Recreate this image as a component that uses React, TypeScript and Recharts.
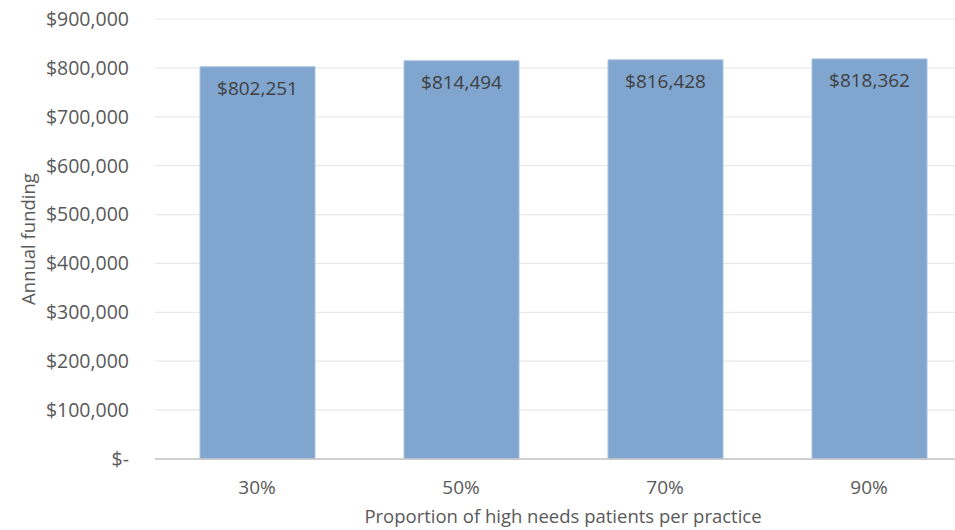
import { Bar, BarChart, CartesianGrid, LabelList, XAxis, YAxis } from "recharts";

const categories = ["30%", "50%", "70%", "90%"];
const funding = [802251, 814494, 816428, 818362];
const yTicks = [0, 100000, 200000, 300000, 400000, 500000, 600000, 700000, 800000, 900000];

const data = categories.map((label, i) => ({ label, funding: funding[i] }));

const FONT = "'Open Sans', 'Noto Sans', sans-serif";

const money = (v: number) => (v === 0 ? "$-" : "$" + v.toLocaleString("en-US"));

const YTitle = (props: any) => {
  const vb = props.viewBox || {};
  const cy = (vb.y ?? 0) + (vb.height ?? 0) / 2;
  return (
    <text
      x={27}
      y={cy}
      transform={`rotate(-90, 27, ${cy})`}
      textAnchor="middle"
      dominantBaseline="central"
      fill="#595959"
      fontSize={18.5}
      fontFamily={FONT}
    >
      Annual funding
    </text>
  );
};

export default function App() {
  return (
    <div
      style={{
        position: "absolute",
        left: 0,
        top: 0,
        width: 955,
        height: 530,
        overflow: "hidden",
        background: "#ffffff",
      }}
    >
      <BarChart
        width={971}
        height={530}
        data={data}
        margin={{ top: 19, right: 0, left: 0, bottom: 0 }}
      >
        <CartesianGrid vertical={false} stroke="#e9e9e9" strokeWidth={1.2} />
        <XAxis
          dataKey="label"
          height={71}
          tickLine={false}
          tickSize={0}
          tickMargin={21.5}
          axisLine={{ stroke: "#c4c4c4", strokeWidth: 1.5 }}
          tick={{ fill: "#595959", fontSize: 19, fontFamily: FONT }}
          label={{
            value: "Proportion of high needs patients per practice",
            position: "insideBottom",
            offset: 7,
            fill: "#595959",
            fontSize: 18.5,
            fontFamily: FONT,
          }}
        />
        <YAxis
          width={155}
          domain={[0, 900000]}
          ticks={yTicks}
          interval={0}
          tickFormatter={money}
          tickLine={false}
          tickSize={0}
          tickMargin={26}
          axisLine={false}
          tick={{ fill: "#595959", fontSize: 19.5, fontFamily: FONT }}
          label={<YTitle />}
        />
        <Bar
          dataKey="funding"
          fill="#80a6d0"
          stroke="#a8c2df"
          strokeWidth={1}
          barSize={115}
          isAnimationActive={false}
        >
          <LabelList
            dataKey="funding"
            position="insideTop"
            offset={14.5}
            formatter={(v: any) => money(Number(v))}
            fill="#404040"
            fontSize={19}
            fontFamily={FONT}
          />
        </Bar>
      </BarChart>
    </div>
  );
}
